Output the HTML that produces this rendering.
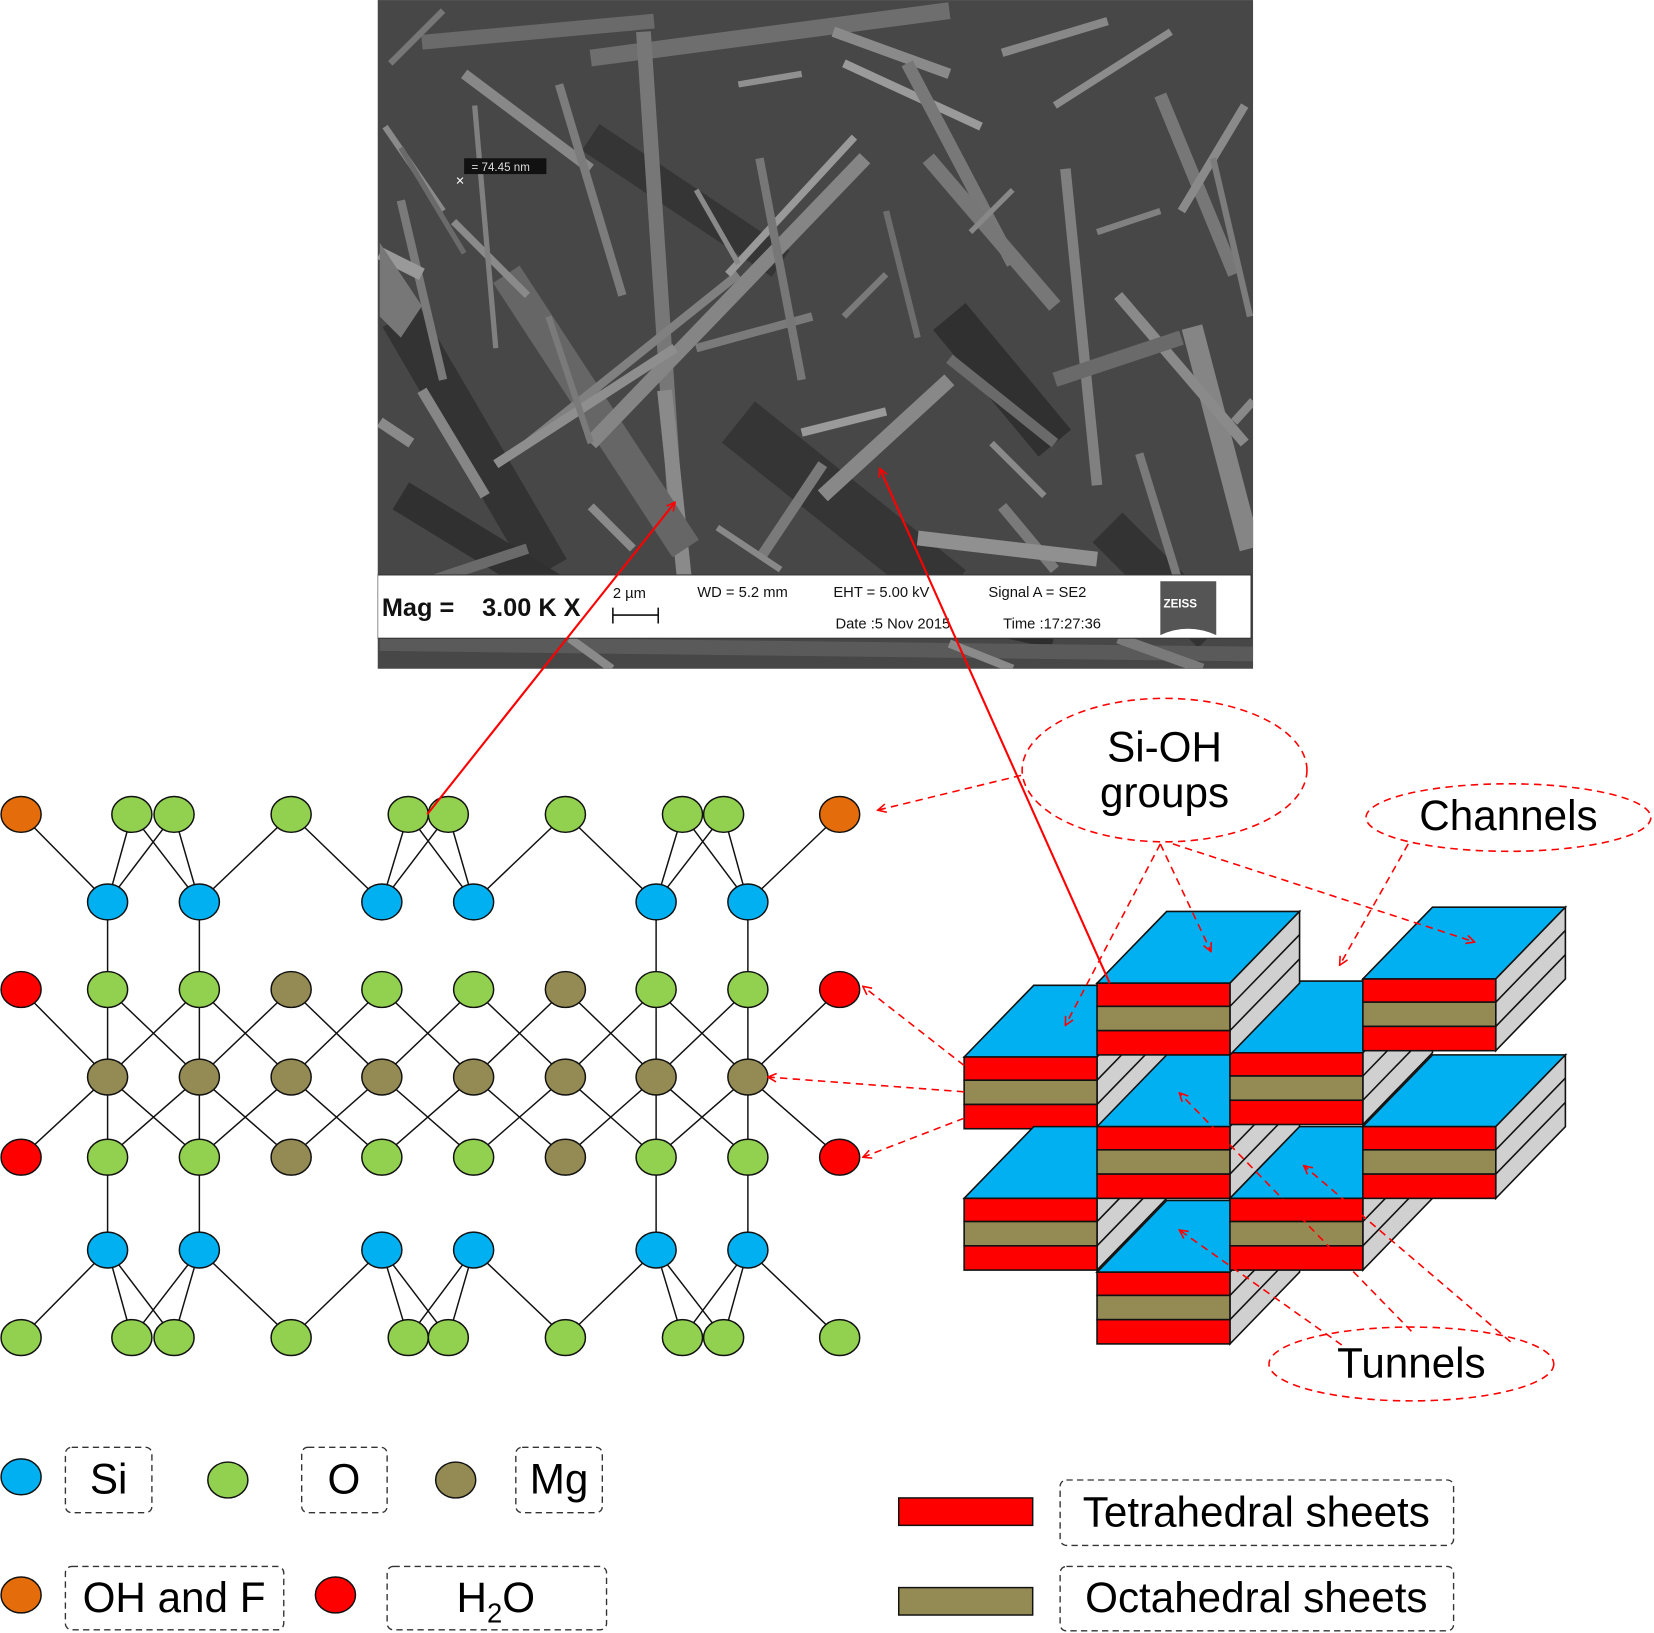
<!DOCTYPE html>
<html><head><meta charset="utf-8"><style>
html,body{margin:0;padding:0;background:#fff;}
svg{display:block;}
text{font-family:"Liberation Sans",Arial,sans-serif;}
</style></head><body>
<svg width="1654" height="1633" viewBox="0 0 1568 1548" xmlns="http://www.w3.org/2000/svg">
<defs>
<clipPath id="sem"><rect x="358" y="0" width="830" height="634"/></clipPath>
<marker id="ah" markerWidth="10" markerHeight="10" refX="9" refY="5" orient="auto" markerUnits="userSpaceOnUse"><path d="M1,1 L9,5 L1,9" fill="none" stroke="#f00" stroke-width="1.5"/></marker>
</defs>
<!-- SEM image -->
<g clip-path="url(#sem)">
<rect x="358" y="0" width="830" height="634" fill="#474747"/>
<g stroke-linecap="butt">
<path d="M380 300 L520 540" stroke="#333" stroke-width="40"/>
<path d="M700 400 L900 560" stroke="#353535" stroke-width="50"/>
<path d="M900 300 L1000 420" stroke="#303030" stroke-width="40"/>
<path d="M1050 500 L1150 600" stroke="#333" stroke-width="40"/>
<path d="M560 130 L740 250" stroke="#353535" stroke-width="30"/>
<path d="M820 560 L1000 600" stroke="#2e2e2e" stroke-width="30"/>
<path d="M380 470 L560 580" stroke="#303030" stroke-width="30"/>
<path d="M400 40 L620 20" stroke="#6a6a6a" stroke-width="14"/>
<path d="M560 55 L900 10" stroke="#6e6e6e" stroke-width="16"/>
<path d="M440 70 L560 160" stroke="#888" stroke-width="10"/>
<path d="M530 80 L590 280" stroke="#7c7c7c" stroke-width="8"/>
<path d="M610 30 L640 480" stroke="#777" stroke-width="14"/>
<path d="M630 370 L650 560" stroke="#8a8a8a" stroke-width="14"/>
<path d="M480 260 L650 520" stroke="#666" stroke-width="30"/>
<path d="M560 420 L820 150" stroke="#858585" stroke-width="14"/>
<path d="M500 420 L700 260" stroke="#808080" stroke-width="8"/>
<path d="M470 440 L640 330" stroke="#8e8e8e" stroke-width="9"/>
<path d="M780 470 L900 360" stroke="#888" stroke-width="14"/>
<path d="M660 330 L770 300" stroke="#7a7a7a" stroke-width="8"/>
<path d="M690 260 L810 130" stroke="#999" stroke-width="7"/>
<path d="M800 60 L930 120" stroke="#9a9a9a" stroke-width="8"/>
<path d="M790 30 L900 70" stroke="#8a8a8a" stroke-width="10"/>
<path d="M860 60 L960 250" stroke="#787878" stroke-width="12"/>
<path d="M880 150 L1000 290" stroke="#777" stroke-width="14"/>
<path d="M900 340 L1000 420" stroke="#6a6a6a" stroke-width="10"/>
<path d="M1000 100 L1110 30" stroke="#8c8c8c" stroke-width="7"/>
<path d="M950 50 L1050 20" stroke="#888" stroke-width="8"/>
<path d="M1010 160 L1040 460" stroke="#808080" stroke-width="10"/>
<path d="M1100 90 L1170 260" stroke="#777" stroke-width="12"/>
<path d="M1120 200 L1180 100" stroke="#8a8a8a" stroke-width="8"/>
<path d="M1130 310 L1185 520" stroke="#858585" stroke-width="20"/>
<path d="M1060 280 L1180 420" stroke="#8a8a8a" stroke-width="10"/>
<path d="M1000 360 L1120 320" stroke="#6a6a6a" stroke-width="14"/>
<path d="M950 480 L1000 540" stroke="#7a7a7a" stroke-width="10"/>
<path d="M870 510 L1040 530" stroke="#909090" stroke-width="14"/>
<path d="M400 370 L460 470" stroke="#868686" stroke-width="10"/>
<path d="M365 120 L420 200" stroke="#8a8a8a" stroke-width="6"/>
<path d="M380 190 L420 360" stroke="#7a7a7a" stroke-width="8"/>
<path d="M360 240 L400 260" stroke="#999" stroke-width="12"/>
<path d="M430 210 L500 280" stroke="#8a8a8a" stroke-width="7"/>
<path d="M450 100 L470 330" stroke="#808080" stroke-width="5"/>
<path d="M720 150 L760 360" stroke="#777" stroke-width="8"/>
<path d="M760 410 L840 390" stroke="#9a9a9a" stroke-width="8"/>
<path d="M720 530 L780 440" stroke="#7a7a7a" stroke-width="10"/>
<path d="M560 480 L600 520" stroke="#8a8a8a" stroke-width="8"/>
<path d="M1170 400 L1188 380" stroke="#888" stroke-width="8"/>
<path d="M380 560 L500 520" stroke="#6a6a6a" stroke-width="10"/>
<path d="M360 610 L1188 620" stroke="#5a5a5a" stroke-width="14"/>
<path d="M540 605 L580 634" stroke="#8a8a8a" stroke-width="8"/>
<path d="M900 610 L960 634" stroke="#8a8a8a" stroke-width="8"/>
<path d="M1060 605 L1140 634" stroke="#7a7a7a" stroke-width="10"/>
<path d="M370 60 L420 10" stroke="#777" stroke-width="6"/>
<path d="M380 140 L440 240" stroke="#6a6a6a" stroke-width="5"/>
<path d="M520 300 L560 420" stroke="#7a7a7a" stroke-width="6"/>
<path d="M660 180 L700 250" stroke="#8a8a8a" stroke-width="5"/>
<path d="M840 200 L870 320" stroke="#6e6e6e" stroke-width="6"/>
<path d="M920 220 L960 180" stroke="#888" stroke-width="5"/>
<path d="M940 420 L990 470" stroke="#8a8a8a" stroke-width="6"/>
<path d="M1080 430 L1120 560" stroke="#7a7a7a" stroke-width="8"/>
<path d="M1150 150 L1185 300" stroke="#7c7c7c" stroke-width="6"/>
<path d="M680 500 L740 540" stroke="#888" stroke-width="6"/>
<path d="M800 300 L840 260" stroke="#7a7a7a" stroke-width="6"/>
<path d="M1040 220 L1100 200" stroke="#808080" stroke-width="6"/>
<path d="M360 400 L390 420" stroke="#8a8a8a" stroke-width="10"/>
<path d="M700 80 L760 70" stroke="#909090" stroke-width="6"/>
<path d="M360 230 L400 290 L380 320 L360 300 Z" fill="#777"/>
</g>
<rect x="440" y="150" width="78" height="15" fill="#111"/>
<text x="447" y="162" font-size="11" fill="#ddd">= 74.45 nm</text>
<text x="432" y="176" font-size="14" fill="#fff">×</text>
<!-- info bar -->
<rect x="358" y="545" width="828" height="60" fill="#fff" stroke="#333" stroke-width="1"/>
<text x="362" y="584" font-size="24" font-weight="bold" fill="#111">Mag =</text>
<text x="457" y="584" font-size="24" font-weight="bold" fill="#111">3.00 K X</text>
<text x="581" y="567" font-size="14" fill="#111">2 µm</text>
<path d="M581 583 H624 M581 576 V591 M624 576 V591" stroke="#111" stroke-width="1.5"/>
<text x="661" y="566" font-size="14" fill="#111">WD =  5.2 mm</text>
<text x="790" y="566" font-size="14" fill="#111">EHT =  5.00 kV</text>
<text x="937" y="566" font-size="14" fill="#111">Signal A = SE2</text>
<text x="792" y="596" font-size="14" fill="#111">Date :5 Nov 2015</text>
<text x="951" y="596" font-size="14" fill="#111">Time :17:27:36</text>
<path d="M1100 551 H1153 V602 Q1126 590 1100 602 Z" fill="#555"/>
<text x="1103" y="576" font-size="11" font-weight="bold" font-family="Liberation Serif" fill="#fff">ZEISS</text>
</g>

<!-- bonds -->
<g stroke="#111" stroke-width="1.4" fill="none">
<path d="M20 772L102 855M102 855L125 772M102 855L165 772M189 855L125 772M189 855L165 772M189 855L276 772M276 772L362 855M362 855L387 772M362 855L425 772M449 855L387 772M449 855L425 772M449 855L536 772M536 772L622 855M622 855L647 772M622 855L686 772M709 855L647 772M709 855L686 772M709 855L796 772"/>
<path d="M20 1268L102 1185M102 1185L125 1268M102 1185L165 1268M189 1185L125 1268M189 1185L165 1268M189 1185L276 1268M276 1268L362 1185M362 1185L387 1268M362 1185L425 1268M449 1185L387 1268M449 1185L425 1268M449 1185L536 1268M536 1268L622 1185M622 1185L647 1268M622 1185L686 1268M709 1185L647 1268M709 1185L686 1268M709 1185L796 1268"/>
<path d="M102 855V1185M189 855V1185M622 855V1185M709 855V1185"/>
<path d="M20 938L102 1021L20 1097 M189 938L102 1021L189 1097 M102 938L189 1021L102 1097 M276 938L189 1021L276 1097 M189 938L276 1021L189 1097 M362 938L276 1021L362 1097 M276 938L362 1021L276 1097 M449 938L362 1021L449 1097 M362 938L449 1021L362 1097 M536 938L449 1021L536 1097 M449 938L536 1021L449 1097 M622 938L536 1021L622 1097 M536 938L622 1021L536 1097 M709 938L622 1021L709 1097 M622 938L709 1021L622 1097 M796 938L709 1021L796 1097"/>
</g>
<!-- atoms -->
<g stroke="#111" stroke-width="1.4">
<g fill="#e46c0a"><ellipse cx="20" cy="772" rx="19" ry="17"/><ellipse cx="796" cy="772" rx="19" ry="17"/></g>
<g fill="#92d050">
<ellipse cx="125" cy="772" rx="19" ry="17"/><ellipse cx="165" cy="772" rx="19" ry="17"/><ellipse cx="276" cy="772" rx="19" ry="17"/><ellipse cx="387" cy="772" rx="19" ry="17"/><ellipse cx="425" cy="772" rx="19" ry="17"/><ellipse cx="536" cy="772" rx="19" ry="17"/><ellipse cx="647" cy="772" rx="19" ry="17"/><ellipse cx="686" cy="772" rx="19" ry="17"/>
<ellipse cx="20" cy="1268" rx="19" ry="17"/><ellipse cx="125" cy="1268" rx="19" ry="17"/><ellipse cx="165" cy="1268" rx="19" ry="17"/><ellipse cx="276" cy="1268" rx="19" ry="17"/><ellipse cx="387" cy="1268" rx="19" ry="17"/><ellipse cx="425" cy="1268" rx="19" ry="17"/><ellipse cx="536" cy="1268" rx="19" ry="17"/><ellipse cx="647" cy="1268" rx="19" ry="17"/><ellipse cx="686" cy="1268" rx="19" ry="17"/><ellipse cx="796" cy="1268" rx="19" ry="17"/>
<ellipse cx="102" cy="938" rx="19" ry="17"/><ellipse cx="189" cy="938" rx="19" ry="17"/><ellipse cx="362" cy="938" rx="19" ry="17"/><ellipse cx="449" cy="938" rx="19" ry="17"/><ellipse cx="622" cy="938" rx="19" ry="17"/><ellipse cx="709" cy="938" rx="19" ry="17"/>
<ellipse cx="102" cy="1097" rx="19" ry="17"/><ellipse cx="189" cy="1097" rx="19" ry="17"/><ellipse cx="362" cy="1097" rx="19" ry="17"/><ellipse cx="449" cy="1097" rx="19" ry="17"/><ellipse cx="622" cy="1097" rx="19" ry="17"/><ellipse cx="709" cy="1097" rx="19" ry="17"/>
</g>
<g fill="#00b0f0">
<ellipse cx="102" cy="855" rx="19" ry="17"/><ellipse cx="189" cy="855" rx="19" ry="17"/><ellipse cx="362" cy="855" rx="19" ry="17"/><ellipse cx="449" cy="855" rx="19" ry="17"/><ellipse cx="622" cy="855" rx="19" ry="17"/><ellipse cx="709" cy="855" rx="19" ry="17"/>
<ellipse cx="102" cy="1185" rx="19" ry="17"/><ellipse cx="189" cy="1185" rx="19" ry="17"/><ellipse cx="362" cy="1185" rx="19" ry="17"/><ellipse cx="449" cy="1185" rx="19" ry="17"/><ellipse cx="622" cy="1185" rx="19" ry="17"/><ellipse cx="709" cy="1185" rx="19" ry="17"/>
</g>
<g fill="#948a54">
<ellipse cx="276" cy="938" rx="19" ry="17"/><ellipse cx="536" cy="938" rx="19" ry="17"/><ellipse cx="276" cy="1097" rx="19" ry="17"/><ellipse cx="536" cy="1097" rx="19" ry="17"/>
<ellipse cx="102" cy="1021" rx="19" ry="17"/><ellipse cx="189" cy="1021" rx="19" ry="17"/><ellipse cx="276" cy="1021" rx="19" ry="17"/><ellipse cx="362" cy="1021" rx="19" ry="17"/><ellipse cx="449" cy="1021" rx="19" ry="17"/><ellipse cx="536" cy="1021" rx="19" ry="17"/><ellipse cx="622" cy="1021" rx="19" ry="17"/><ellipse cx="709" cy="1021" rx="19" ry="17"/>
</g>
<g fill="#f00">
<ellipse cx="20" cy="938" rx="19" ry="17"/><ellipse cx="796" cy="938" rx="19" ry="17"/><ellipse cx="20" cy="1097" rx="19" ry="17"/><ellipse cx="796" cy="1097" rx="19" ry="17"/>
</g>
</g>

<!-- blocks: order C G E D A B I H F -->
<g stroke="#111" stroke-width="1.5" stroke-linejoin="miter">
<g transform="translate(914,1002)"><path d="M0 0L66 -68H192L126 0Z" fill="#00b0f0"/><path d="M126 0L192 -68V0L126 68Z" fill="#d0d0d0"/><path d="M126 22L192 -46M126 45L192 -23" fill="none"/><rect x="0" y="0" width="126" height="22" fill="#f00"/><rect x="0" y="22" width="126" height="23" fill="#948a54"/><rect x="0" y="45" width="126" height="23" fill="#f00"/></g>
<g transform="translate(914,1136)"><path d="M0 0L66 -68H192L126 0Z" fill="#00b0f0"/><path d="M126 0L192 -68V0L126 68Z" fill="#d0d0d0"/><path d="M126 22L192 -46M126 45L192 -23" fill="none"/><rect x="0" y="0" width="126" height="22" fill="#f00"/><rect x="0" y="22" width="126" height="23" fill="#948a54"/><rect x="0" y="45" width="126" height="23" fill="#f00"/></g>
<g transform="translate(1040,1068)"><path d="M0 0L66 -68H192L126 0Z" fill="#00b0f0"/><path d="M126 0L192 -68V0L126 68Z" fill="#d0d0d0"/><path d="M126 22L192 -46M126 45L192 -23" fill="none"/><rect x="0" y="0" width="126" height="22" fill="#f00"/><rect x="0" y="22" width="126" height="23" fill="#948a54"/><rect x="0" y="45" width="126" height="23" fill="#f00"/></g>
<g transform="translate(1166,998)"><path d="M0 0L66 -68H192L126 0Z" fill="#00b0f0"/><path d="M126 0L192 -68V0L126 68Z" fill="#d0d0d0"/><path d="M126 22L192 -46M126 45L192 -23" fill="none"/><rect x="0" y="0" width="126" height="22" fill="#f00"/><rect x="0" y="22" width="126" height="23" fill="#948a54"/><rect x="0" y="45" width="126" height="23" fill="#f00"/></g>
<g transform="translate(1040,932)"><path d="M0 0L66 -68H192L126 0Z" fill="#00b0f0"/><path d="M126 0L192 -68V0L126 68Z" fill="#d0d0d0"/><path d="M126 22L192 -46M126 45L192 -23" fill="none"/><rect x="0" y="0" width="126" height="22" fill="#f00"/><rect x="0" y="22" width="126" height="23" fill="#948a54"/><rect x="0" y="45" width="126" height="23" fill="#f00"/></g>
<g transform="translate(1292,928)"><path d="M0 0L66 -68H192L126 0Z" fill="#00b0f0"/><path d="M126 0L192 -68V0L126 68Z" fill="#d0d0d0"/><path d="M126 22L192 -46M126 45L192 -23" fill="none"/><rect x="0" y="0" width="126" height="22" fill="#f00"/><rect x="0" y="22" width="126" height="23" fill="#948a54"/><rect x="0" y="45" width="126" height="23" fill="#f00"/></g>
<g transform="translate(1040,1206)"><path d="M0 0L66 -68H192L126 0Z" fill="#00b0f0"/><path d="M126 0L192 -68V0L126 68Z" fill="#d0d0d0"/><path d="M126 22L192 -46M126 45L192 -23" fill="none"/><rect x="0" y="0" width="126" height="22" fill="#f00"/><rect x="0" y="22" width="126" height="23" fill="#948a54"/><rect x="0" y="45" width="126" height="23" fill="#f00"/></g>
<g transform="translate(1166,1136)"><path d="M0 0L66 -68H192L126 0Z" fill="#00b0f0"/><path d="M126 0L192 -68V0L126 68Z" fill="#d0d0d0"/><path d="M126 22L192 -46M126 45L192 -23" fill="none"/><rect x="0" y="0" width="126" height="22" fill="#f00"/><rect x="0" y="22" width="126" height="23" fill="#948a54"/><rect x="0" y="45" width="126" height="23" fill="#f00"/></g>
<g transform="translate(1292,1068)"><path d="M0 0L66 -68H192L126 0Z" fill="#00b0f0"/><path d="M126 0L192 -68V0L126 68Z" fill="#d0d0d0"/><path d="M126 22L192 -46M126 45L192 -23" fill="none"/><rect x="0" y="0" width="126" height="22" fill="#f00"/><rect x="0" y="22" width="126" height="23" fill="#948a54"/><rect x="0" y="45" width="126" height="23" fill="#f00"/></g>
</g>

<!-- solid red arrows -->
<g stroke="#f00" stroke-width="2" fill="none">
<path d="M405 772 L640 476" marker-end="url(#ah)"/>
<path d="M1052 932 L834 444" marker-end="url(#ah)"/>
</g>
<!-- dashed ellipses and arrows -->
<g stroke="#f00" stroke-width="1.5" fill="none" stroke-dasharray="7,5">
<ellipse cx="1104" cy="730" rx="135" ry="68"/>
<ellipse cx="1430" cy="775" rx="135" ry="32"/>
<ellipse cx="1338" cy="1293" rx="135" ry="35"/>
<path d="M968 735 L832 768" marker-end="url(#ah)"/>
<path d="M1100 800 L1010 972" marker-end="url(#ah)"/>
<path d="M1100 800 L1148 902" marker-end="url(#ah)"/>
<path d="M1112 800 L1398 893" marker-end="url(#ah)"/>
<path d="M1335 800 L1270 915" marker-end="url(#ah)"/>
<path d="M914 1010 L818 935" marker-end="url(#ah)"/>
<path d="M914 1035 L728 1021" marker-end="url(#ah)"/>
<path d="M914 1060 L818 1097" marker-end="url(#ah)"/>
<path d="M1272 1275 L1118 1166" marker-end="url(#ah)"/>
<path d="M1338 1262 L1118 1036" marker-end="url(#ah)"/>
<path d="M1432 1272 L1236 1105" marker-end="url(#ah)"/>
</g>
<g font-size="40" fill="#000" text-anchor="middle">
<text x="1104" y="722">Si-OH</text>
<text x="1104" y="765">groups</text>
<text x="1430" y="787">Channels</text>
<text x="1338" y="1306">Tunnels</text>
</g>

<!-- legend -->
<g stroke="#111" stroke-width="1.4">
<ellipse cx="20" cy="1400" rx="19" ry="17" fill="#00b0f0"/>
<ellipse cx="216" cy="1403" rx="19" ry="17" fill="#92d050"/>
<ellipse cx="432" cy="1403" rx="19" ry="17" fill="#948a54"/>
<ellipse cx="20" cy="1512" rx="19" ry="17" fill="#e46c0a"/>
<ellipse cx="318" cy="1512" rx="19" ry="17" fill="#f00"/>
<rect x="852" y="1420" width="127" height="26" fill="#f00"/>
<rect x="852" y="1505" width="127" height="26" fill="#948a54"/>
</g>
<g stroke="#333" stroke-width="1.3" fill="none" stroke-dasharray="6,4">
<rect x="62" y="1372" width="82" height="62" rx="6"/>
<rect x="286" y="1372" width="81" height="62" rx="6"/>
<rect x="489" y="1372" width="82" height="62" rx="6"/>
<rect x="62" y="1485" width="207" height="60" rx="6"/>
<rect x="367" y="1485" width="208" height="60" rx="6"/>
<rect x="1005" y="1403" width="373" height="62" rx="6"/>
<rect x="1005" y="1485" width="373" height="61" rx="6"/>
</g>
<g font-size="40" fill="#000" text-anchor="middle">
<text x="103" y="1416">Si</text>
<text x="326" y="1416">O</text>
<text x="530" y="1416">Mg</text>
<text x="165" y="1528">OH and F</text>
<text x="470" y="1528">H<tspan font-size="26" dy="10">2</tspan><tspan dy="-10">O</tspan></text>
<text x="1191" y="1447">Tetrahedral sheets</text>
<text x="1191" y="1528">Octahedral sheets</text>
</g>
</svg>
</body></html>
